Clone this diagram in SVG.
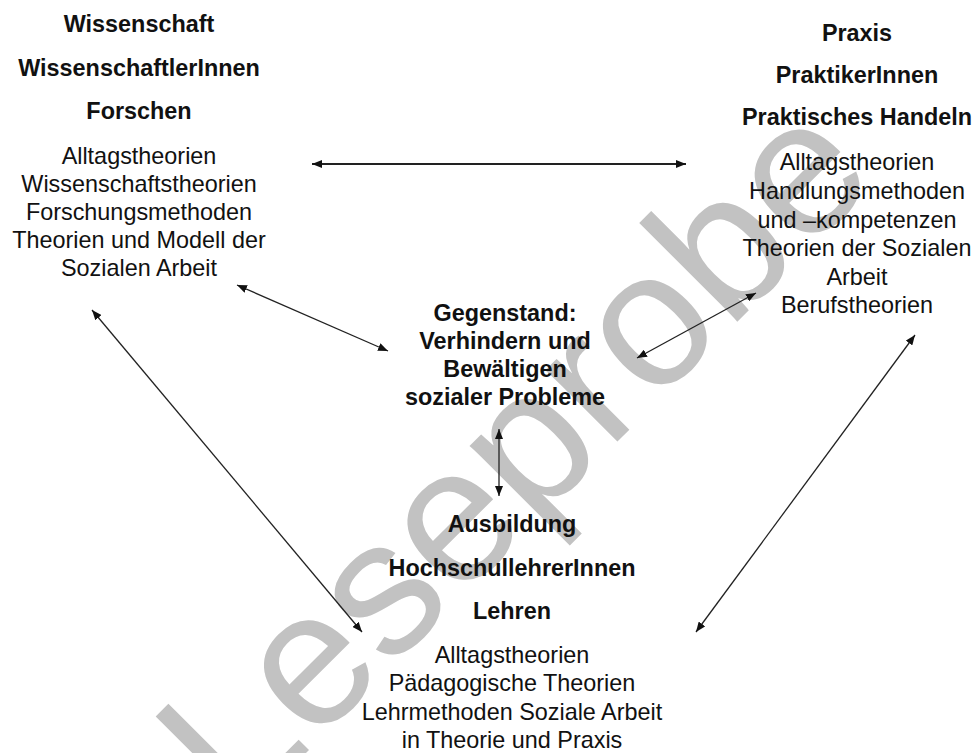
<svg xmlns="http://www.w3.org/2000/svg" width="977" height="753" viewBox="0 0 977 753">
<defs>
<style>
text{font-family:"Liberation Sans",Arial,sans-serif;fill:#111;text-anchor:middle}
.b{font-weight:bold;font-size:23.4px}
.r{font-size:23.4px}
.wm{font-size:192px;fill:#c2c2c2;text-anchor:start}
.c{stroke:#222;stroke-width:1.3;fill:none;marker-start:url(#ah);marker-end:url(#ah)}
.c.h{stroke-width:2}
</style>
<marker id="ah" viewBox="0 0 10 8" refX="10" refY="4" markerWidth="10" markerHeight="8" markerUnits="userSpaceOnUse" orient="auto-start-reverse">
<path d="M0,0 L10,4 L0,8 z" fill="#111"/>
</marker>
</defs>
<rect width="977" height="753" fill="#fff"/>
<text class="wm" x="0" y="0" transform="translate(238,821) rotate(-45)">Leseprobe</text>
<g id="connectors">
<line class="c h" x1="312" y1="164" x2="686" y2="164"/>
<line class="c" x1="237" y1="285" x2="388" y2="351"/>
<line class="c" x1="92" y1="310" x2="362" y2="632"/>
<line class="c" x1="637" y1="358" x2="756" y2="293"/>
<line class="c" x1="499" y1="429" x2="499" y2="496"/>
<line class="c" x1="915" y1="335" x2="696" y2="632"/>
</g>
<g id="wissenschaft">
<text class="b" x="139" y="32">Wissenschaft</text>
<text class="b" x="139" y="76">WissenschaftlerInnen</text>
<text class="b" x="139" y="119">Forschen</text>
<text class="r" x="139" y="164">Alltagstheorien</text>
<text class="r" x="139" y="192">Wissenschaftstheorien</text>
<text class="r" x="139" y="220">Forschungsmethoden</text>
<text class="r" x="139" y="248">Theorien und Modell der</text>
<text class="r" x="139" y="276">Sozialen Arbeit</text>
</g>
<g id="praxis">
<text class="b" x="857" y="41">Praxis</text>
<text class="b" x="857" y="83">PraktikerInnen</text>
<text class="b" x="857" y="125">Praktisches Handeln</text>
<text class="r" x="857" y="170">Alltagstheorien</text>
<text class="r" x="857" y="199">Handlungsmethoden</text>
<text class="r" x="857" y="228">und –kompetenzen</text>
<text class="r" x="857" y="256">Theorien der Sozialen</text>
<text class="r" x="857" y="285">Arbeit</text>
<text class="r" x="857" y="313">Berufstheorien</text>
</g>
<g id="gegenstand">
<text class="b" x="505" y="321">Gegenstand:</text>
<text class="b" x="505" y="349">Verhindern und</text>
<text class="b" x="505" y="377">Bewältigen</text>
<text class="b" x="505" y="405">sozialer Probleme</text>
</g>
<g id="ausbildung">
<text class="b" x="512" y="532">Ausbildung</text>
<text class="b" x="512" y="576">HochschullehrerInnen</text>
<text class="b" x="512" y="619">Lehren</text>
<text class="r" x="512" y="663">Alltagstheorien</text>
<text class="r" x="512" y="691">Pädagogische Theorien</text>
<text class="r" x="512" y="720">Lehrmethoden Soziale Arbeit</text>
<text class="r" x="512" y="748">in Theorie und Praxis</text>
</g>
</svg>
